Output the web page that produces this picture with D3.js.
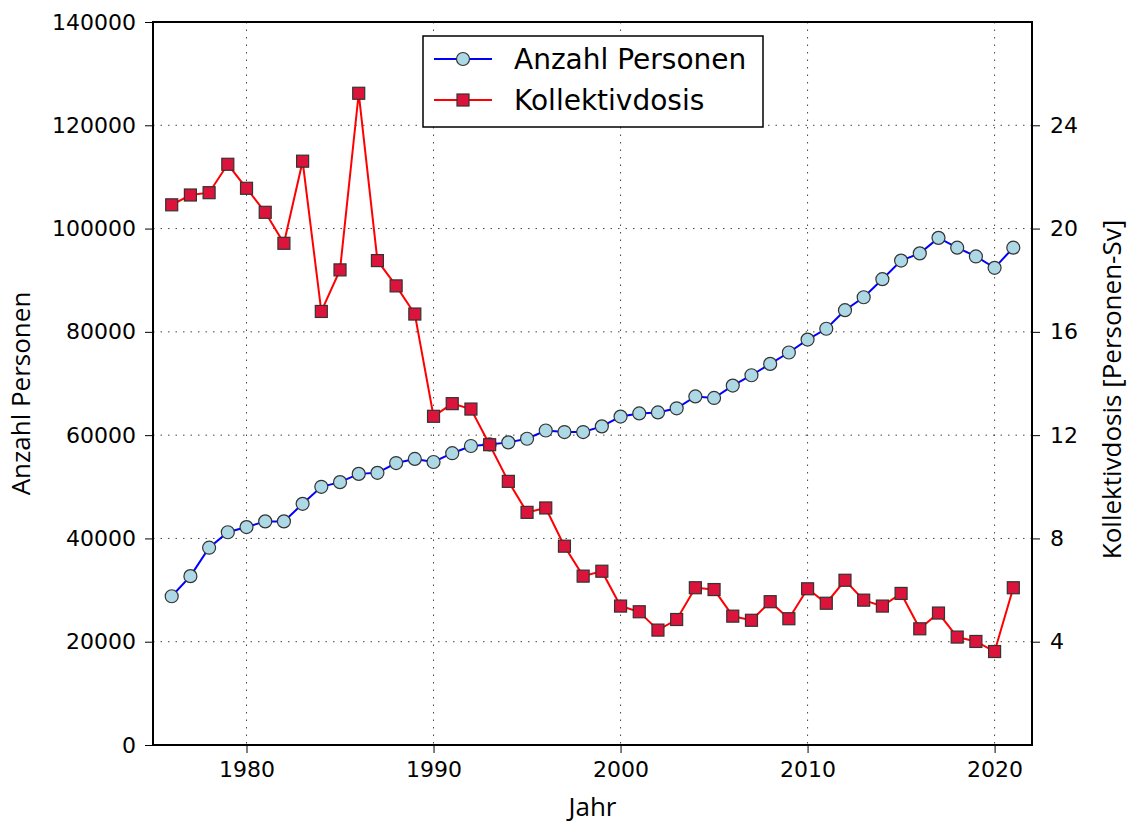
<!DOCTYPE html>
<html lang="de">
<head>
    <meta charset="UTF-8">
    <title>Anzahl Personen und Kollektivdosis</title>
    <script src="https://d3js.org/d3.v7.min.js"></script>
    <style>
        body {
            margin: 0;
            padding: 0;
            background-color: #fff;
        }
        .tick text {
            font-family: 'DejaVu Sans', sans-serif;
            font-size: 22px;
            fill: #000;
        }
        .axis-label {
            font-family: 'Open Sans', sans-serif;
            font-size: 26px;
            fill: #000;
        }
    </style>
</head>
<body>
    <script>
        // Daten
        const jahre = [1976, 1977, 1978, 1979, 1980, 1981, 1982, 1983, 1984, 1985,
            1986, 1987, 1988, 1989, 1990, 1991, 1992, 1993, 1994, 1995,
            1996, 1997, 1998, 1999, 2000, 2001, 2002, 2003, 2004, 2005,
            2006, 2007, 2008, 2009, 2010, 2011, 2012, 2013, 2014, 2015,
            2016, 2017, 2018, 2019, 2020, 2021];

        const anzahlPersonen = [28800, 32700, 38200, 41200, 42200, 43300, 43300, 46700, 50000, 50900,
            52500, 52700, 54600, 55400, 54800, 56500, 57900, 58200, 58600, 59300,
            60900, 60600, 60600, 61700, 63600, 64200, 64400, 65200, 67500, 67200,
            69600, 71600, 73800, 76000, 78500, 80600, 84200, 86700, 90200, 93800,
            95200, 98200, 96300, 94600, 92400, 96300];

        const kollektivdosis = [20.92, 21.30, 21.39, 22.49, 21.56, 20.63, 19.43, 22.61, 16.79, 18.40,
            25.24, 18.76, 17.78, 16.69, 12.73, 13.22, 13.01, 11.63, 10.21, 9.01,
            9.18, 7.70, 6.54, 6.73, 5.38, 5.16, 4.45, 4.86, 6.09, 6.02,
            4.99, 4.83, 5.55, 4.89, 6.05, 5.49, 6.38, 5.61, 5.38, 5.87,
            4.50, 5.11, 4.18, 4.01, 3.62, 6.09];

        const xTicks = [1980, 1990, 2000, 2010, 2020];
        const yLeftTicks = [0, 20000, 40000, 60000, 80000, 100000, 120000, 140000];
        const yRightTicks = [4, 8, 12, 16, 20, 24];

        const legendLabels = ["Anzahl Personen", "Kollektivdosis"];

        // Abmessungen
        const width = 1130;
        const height = 825;
        const margin = { top: 22, right: 98, bottom: 80, left: 153 };

        const svg = d3.select("body")
            .append("svg")
            .attr("width", width)
            .attr("height", height);

        const x = d3.scaleLinear()
            .domain([1975, 2022])
            .range([margin.left, width - margin.right]);

        const yLeft = d3.scaleLinear()
            .domain([0, 140000])
            .range([height - margin.bottom, margin.top]);

        const yRight = d3.scaleLinear()
            .domain([0, 28])
            .range([height - margin.bottom, margin.top]);

        // Gitter
        const grid = svg.append("g")
            .attr("stroke", "#444")
            .attr("stroke-width", 1)
            .attr("stroke-dasharray", "1.5,6");

        grid.selectAll("line.v")
            .data(xTicks)
            .enter()
            .append("line")
            .attr("x1", d => x(d))
            .attr("x2", d => x(d))
            .attr("y1", margin.top)
            .attr("y2", height - margin.bottom);

        grid.selectAll("line.h")
            .data(yLeftTicks.slice(1, -1))
            .enter()
            .append("line")
            .attr("x1", margin.left)
            .attr("x2", width - margin.right)
            .attr("y1", d => yLeft(d))
            .attr("y2", d => yLeft(d));

        // Achsen
        const xAxis = svg.append("g")
            .attr("transform", `translate(0,${height - margin.bottom})`)
            .call(d3.axisBottom(x).tickValues(xTicks).tickFormat(d3.format("d")).tickSize(8).tickPadding(8));

        const leftAxis = svg.append("g")
            .attr("transform", `translate(${margin.left},0)`)
            .call(d3.axisLeft(yLeft).tickValues(yLeftTicks).tickFormat(d3.format("d")).tickSize(8).tickPadding(9));

        const rightAxis = svg.append("g")
            .attr("transform", `translate(${width - margin.right},0)`)
            .call(d3.axisRight(yRight).tickValues(yRightTicks).tickFormat(d3.format("d")).tickSize(8).tickPadding(10));

        [xAxis, leftAxis, rightAxis].forEach(a => {
            a.select(".domain").remove();
            a.selectAll(".tick line").attr("stroke", "#000").attr("stroke-width", 1);
        });

        // Rahmen
        svg.append("rect")
            .attr("x", margin.left)
            .attr("y", margin.top)
            .attr("width", width - margin.left - margin.right)
            .attr("height", height - margin.top - margin.bottom)
            .attr("fill", "none")
            .attr("stroke", "#000")
            .attr("stroke-width", 2);

        // Achsenbeschriftungen
        svg.append("text")
            .attr("class", "axis-label")
            .attr("x", (margin.left + width - margin.right) / 2)
            .attr("y", 816)
            .attr("text-anchor", "middle")
            .text("Jahr");

        svg.append("text")
            .attr("class", "axis-label")
            .attr("transform", `translate(30,${(margin.top + height - margin.bottom) / 2 + 10}) rotate(-90)`)
            .attr("text-anchor", "middle")
            .text("Anzahl Personen");

        svg.append("text")
            .attr("class", "axis-label")
            .attr("transform", `translate(1121,${(margin.top + height - margin.bottom) / 2 + 6}) rotate(-90)`)
            .attr("text-anchor", "middle")
            .text("Kollektivdosis [Personen-Sv]");

        // Linien
        const personenData = jahre.map((j, i) => ({ jahr: j, wert: anzahlPersonen[i] }));
        const dosisData = jahre.map((j, i) => ({ jahr: j, wert: kollektivdosis[i] }));

        const linePersonen = d3.line()
            .x(d => x(d.jahr))
            .y(d => yLeft(d.wert));

        const lineDosis = d3.line()
            .x(d => x(d.jahr))
            .y(d => yRight(d.wert));

        svg.append("path")
            .datum(personenData)
            .attr("fill", "none")
            .attr("stroke", "#0000ff")
            .attr("stroke-width", 2)
            .attr("d", linePersonen);

        svg.append("g")
            .selectAll("circle")
            .data(personenData)
            .enter()
            .append("circle")
            .attr("cx", d => x(d.jahr))
            .attr("cy", d => yLeft(d.wert))
            .attr("r", 6.5)
            .attr("fill", "#add8e6")
            .attr("stroke", "#333")
            .attr("stroke-width", 1.2);

        svg.append("path")
            .datum(dosisData)
            .attr("fill", "none")
            .attr("stroke", "#ff0000")
            .attr("stroke-width", 2)
            .attr("d", lineDosis);

        const sq = 12;
        svg.append("g")
            .selectAll("rect")
            .data(dosisData)
            .enter()
            .append("rect")
            .attr("x", d => x(d.jahr) - sq / 2)
            .attr("y", d => yRight(d.wert) - sq / 2)
            .attr("width", sq)
            .attr("height", sq)
            .attr("fill", "#dc143c")
            .attr("stroke", "#333")
            .attr("stroke-width", 1.2);

        // Legende
        const legend = svg.append("g");

        legend.append("rect")
            .attr("x", 423)
            .attr("y", 36)
            .attr("width", 340)
            .attr("height", 91)
            .attr("fill", "#fff")
            .attr("stroke", "#000")
            .attr("stroke-width", 1.5);

        const rows = legend.selectAll("g.row")
            .data(legendLabels)
            .enter()
            .append("g")
            .attr("transform", (d, i) => `translate(0,${59 + i * 41})`);

        rows.append("line")
            .attr("x1", 434)
            .attr("x2", 492)
            .attr("stroke", (d, i) => i === 0 ? "#0000ff" : "#ff0000")
            .attr("stroke-width", 2);

        rows.filter((d, i) => i === 0)
            .append("circle")
            .attr("cx", 463)
            .attr("r", 6.5)
            .attr("fill", "#add8e6")
            .attr("stroke", "#333")
            .attr("stroke-width", 1.2);

        rows.filter((d, i) => i === 1)
            .append("rect")
            .attr("x", 463 - sq / 2)
            .attr("y", -sq / 2)
            .attr("width", sq)
            .attr("height", sq)
            .attr("fill", "#dc143c")
            .attr("stroke", "#333")
            .attr("stroke-width", 1.2);

        rows.append("text")
            .attr("x", 514)
            .attr("dy", "0.36em")
            .attr("font-family", "'DejaVu Sans', sans-serif")
            .attr("font-size", 28)
            .attr("fill", "#000")
            .text(d => d);
    </script>
</body>
</html>
